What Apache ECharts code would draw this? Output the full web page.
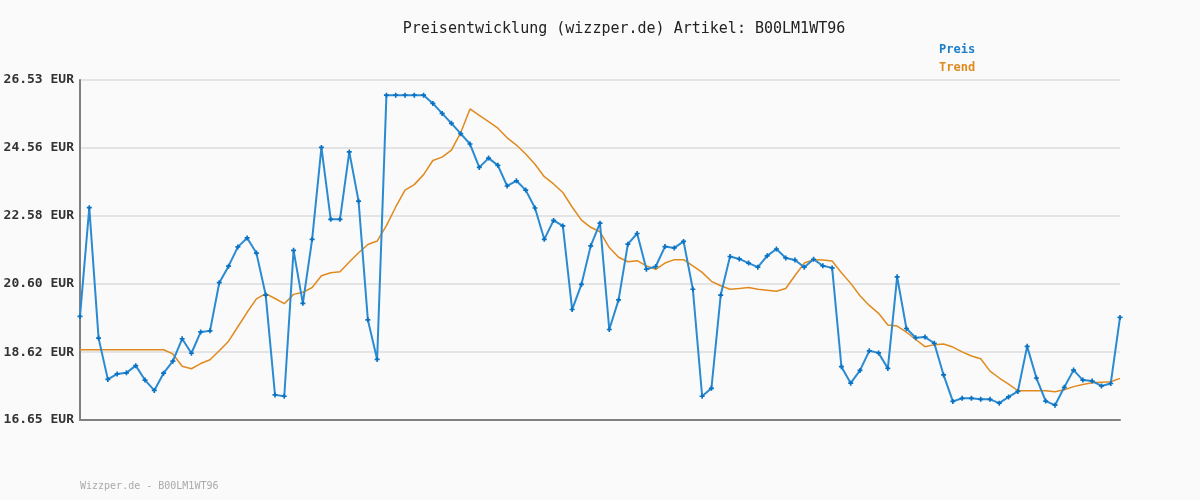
<!DOCTYPE html>
<html>
<head>
<meta charset="utf-8">
<script src="https://cdn.jsdelivr.net/npm/echarts@6/dist/echarts.min.js"></script>
<style>html,body{margin:0;padding:0;background:#fafafa;}#c{width:1200px;height:500px;}</style>
</head>
<body>
<div id="c"></div>
<script>
const titleText = 'Preisentwicklung (wizzper.de) Artikel: B00LM1WT96';
const footerText = 'Wizzper.de - B00LM1WT96';
const seriesNames = ['Preis', 'Trend'];
const yTicks = [16.65, 18.62, 20.60, 22.58, 24.56, 26.53];

const preis = [
  19.66, 22.82, 19.03, 17.83, 17.99, 18.02, 18.23, 17.81, 17.51, 18.01,
  18.36, 19.01, 18.59, 19.21, 19.24, 20.64, 21.12, 21.68, 21.94, 21.50,
  20.28, 17.38, 17.34, 21.58, 20.04, 21.90, 24.57, 22.48, 22.48, 24.44,
  23.01, 19.56, 18.41, 26.09, 26.09, 26.09, 26.09, 26.09, 25.85, 25.56,
  25.27, 24.97, 24.67, 23.99, 24.26, 24.05, 23.45, 23.60, 23.33, 22.81,
  21.90, 22.45, 22.29, 19.86, 20.59, 21.71, 22.37, 19.28, 20.14, 21.76,
  22.07, 21.03, 21.11, 21.69, 21.65, 21.84, 20.45, 17.34, 17.57, 20.28,
  21.40, 21.33, 21.21, 21.09, 21.42, 21.62, 21.36, 21.30, 21.09, 21.32,
  21.13, 21.07, 18.20, 17.72, 18.09, 18.66, 18.60, 18.15, 20.81, 19.31,
  19.04, 19.06, 18.88, 17.96, 17.19, 17.28, 17.28, 17.25, 17.25, 17.14,
  17.32, 17.48, 18.79, 17.87, 17.20, 17.08, 17.60, 18.10, 17.81, 17.78,
  17.64, 17.71, 19.63
];

const trend = [
  18.69, 18.69, 18.69, 18.69, 18.69, 18.69, 18.69, 18.69, 18.69, 18.69,
  18.57, 18.21, 18.14, 18.29, 18.40, 18.66, 18.94, 19.36, 19.78, 20.17,
  20.32, 20.18, 20.03, 20.30, 20.36, 20.50, 20.84, 20.93, 20.96, 21.24,
  21.51, 21.75, 21.85, 22.30, 22.84, 23.33, 23.49, 23.78, 24.19, 24.29,
  24.49, 25.00, 25.69, 25.50, 25.32, 25.13, 24.85, 24.64, 24.38, 24.08,
  23.72, 23.51, 23.26, 22.84, 22.46, 22.25, 22.12, 21.66, 21.38, 21.25,
  21.28, 21.13, 21.03, 21.21, 21.31, 21.31, 21.13, 20.94, 20.68, 20.55,
  20.45, 20.47, 20.50, 20.45, 20.42, 20.39, 20.47, 20.85, 21.21, 21.31,
  21.30, 21.27, 20.93, 20.62, 20.26, 19.98, 19.75, 19.41, 19.38, 19.20,
  18.99, 18.78, 18.84, 18.86, 18.77, 18.63, 18.51, 18.43, 18.07, 17.87,
  17.69, 17.50, 17.50, 17.50, 17.50, 17.47, 17.53, 17.62, 17.68, 17.73,
  17.75, 17.76, 17.86
];

const categories = preis.map((_, i) => String(i + 1));

const mono = '"DejaVu Sans Mono", "Liberation Mono", monospace';
const chart = echarts.init(document.getElementById('c'), null, {renderer: 'canvas'});
chart.setOption({
  backgroundColor: '#fafafa',
  animation: false,
  title: {
    text: titleText,
    left: 619, top: 17, textAlign: 'center',
    textStyle: {fontFamily: mono, fontSize: 15, fontWeight: 'normal', color: '#222'}
  },
  legend: {
    orient: 'vertical', left: 934, top: 39, itemGap: 6,
    icon: 'none', itemWidth: 0, itemHeight: 10, selectedMode: false,
    textStyle: {fontFamily: mono, fontSize: 12, fontWeight: 'bold', padding: [0,0,0,-5]},
    data: [
      {name: seriesNames[0], textStyle: {color: '#1a7fc8'}},
      {name: seriesNames[1], textStyle: {color: '#e08a1e'}}
    ]
  },
  graphic: [{
    type: 'text', left: 80, top: 481,
    style: {text: footerText, fontFamily: mono, fontSize: 10, fill: '#aaaaaa'}
  }],
  grid: {left: 80, right: 80, top: 80, bottom: 80, containLabel: false},
  xAxis: {
    type: 'category', data: categories, boundaryGap: false,
    axisLine: {show: true, lineStyle: {color: '#808080', width: 2}},
    axisTick: {show: false}, axisLabel: {show: false}, splitLine: {show: false}
  },
  yAxis: {
    type: 'value', min: yTicks[0], max: yTicks[yTicks.length - 1],
    axisLine: {show: true, lineStyle: {color: '#808080', width: 2}},
    axisTick: {show: false, customValues: yTicks},
    axisLabel: {
      customValues: yTicks, margin: 6,
      fontFamily: mono, fontSize: 13, fontWeight: 'bold', color: '#333',
      formatter: v => v.toFixed(2) + ' EUR'
    },
    splitLine: {show: true, lineStyle: {color: '#e4e4e4', width: 2}}
  },
  series: [
    {
      name: seriesNames[0], type: 'line', data: preis,
      symbol: 'path://M2,0H4V2H6V4H4V6H2V4H0V2H2Z', symbolSize: 5, showSymbol: true,
      lineStyle: {color: '#2a8ad2', width: 2},
      itemStyle: {color: '#0a72c2'}, z: 3
    },
    {
      name: seriesNames[1], type: 'line', data: trend,
      symbol: 'none', showSymbol: false,
      lineStyle: {color: '#e08a1e', width: 1.5},
      itemStyle: {color: '#e08a1e'}, z: 2
    }
  ]
});
</script>
</body>
</html>
